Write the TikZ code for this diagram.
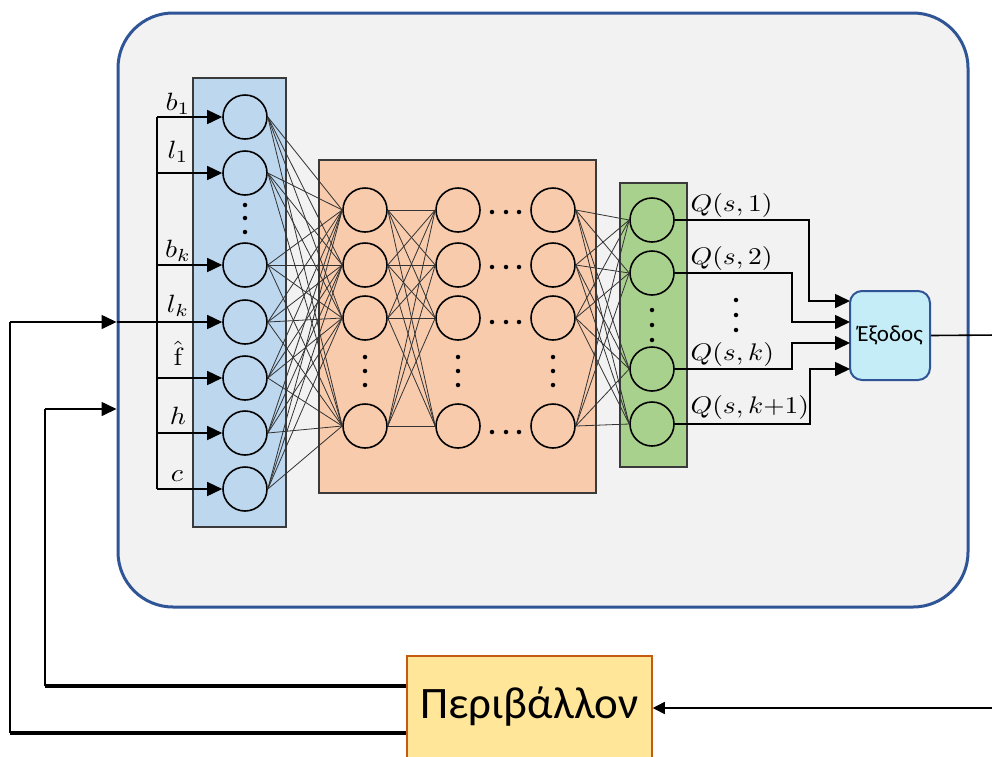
\documentclass[tikz,border=0pt]{standalone}
\usepackage{fontspec}
\newfontfamily\grfont{Carlito}
\usetikzlibrary{arrows.meta}
\definecolor{agentfill}{HTML}{F2F2F2}
\definecolor{agentline}{HTML}{2F5597}
\definecolor{infill}{HTML}{BDD7EE}
\definecolor{hidfill}{HTML}{F8CBAD}
\definecolor{outfill}{HTML}{A9D18E}
\definecolor{exfill}{HTML}{C5EDF8}
\definecolor{envfill}{HTML}{FFE699}
\definecolor{envline}{HTML}{C55A11}
\definecolor{boxline}{HTML}{3A3A3A}
\tikzset{
  neuron/.style={circle,draw=black,line width=1.6pt,minimum size=44pt,inner sep=0pt},
  layerbox/.style={draw=boxline,line width=1.2pt,inner sep=0pt},
  conn/.style={draw=black!80,line width=0.8pt},
  arr/.style={line width=1.6pt,-{Triangle[length=15pt,width=14pt]}},
  wire/.style={line width=1.6pt},
  dotmark/.style={circle,fill=black,inner sep=0pt,minimum size=4.5pt},
  inlabel/.style={font=\normalsize,inner sep=0pt,xscale=2.8,yscale=2.5},
  qlabel/.style={font=\normalsize,inner sep=0pt,anchor=west,xscale=2.75,yscale=2.4},
}
\begin{document}
\begin{tikzpicture}[x=1pt,y=-1pt]
\useasboundingbox (0,0) rectangle (992,756);
\clip (0,0) rectangle (992,756);
\fill[white] (0,0) rectangle (992,756);
% agent box
\node[draw=agentline,fill=agentfill,line width=3pt,rounded corners=55pt,
      minimum width=850pt,minimum height=594pt,inner sep=0pt] (agent) at (543,310) {};
% layer boxes
\node[layerbox,fill=infill,minimum width=93pt,minimum height=449pt] (inbox) at (239.5,302.5) {};
\node[layerbox,fill=hidfill,minimum width=277pt,minimum height=333pt] (hidbox) at (457.5,326.5) {};
\node[layerbox,fill=outfill,minimum width=67pt,minimum height=284pt] (outbox) at (653.5,325) {};
% input neurons
\foreach \n/\y in {1/117,2/173,3/265,4/322,5/378,6/433,7/489}
  \node[neuron] (in\n) at (245,\y) {};
% hidden neurons
\foreach \c/\x in {a/365,b/458,c/553}
  \foreach \n/\y in {1/210,2/265,3/318,4/426}
    \node[neuron] (h\c\n) at (\x,\y) {};
% output neurons
\foreach \n/\y in {1/220,2/273,3/369,4/424}
  \node[neuron] (o\n) at (652,\y) {};
% connections
\foreach \i in {1,...,7}
  \foreach \j in {1,...,4}
    \draw[conn] (in\i.east) -- (ha\j.west);
\foreach \i in {1,...,4}
  \foreach \j in {1,...,4}
    \draw[conn] (ha\i.east) -- (hb\j.west);
\foreach \i in {1,...,4}
  \foreach \j in {1,...,4}
    \draw[conn] (hc\i.east) -- (o\j.west);
% vertical dots
\foreach \y [count=\k] in {205,218,232} \node[dotmark] (dv1\k) at (245,\y) {};
\foreach \y [count=\k] in {357,371,385} {
  \node[dotmark] (dv2\k) at (365,\y) {};
  \node[dotmark] (dv3\k) at (458,\y) {};
  \node[dotmark] (dv4\k) at (553,\y) {};
}
\foreach \y [count=\k] in {310,325,340} \node[dotmark] (dv5\k) at (652,\y) {};
\foreach \y [count=\k] in {300,315,330} \node[dotmark] (dv6\k) at (736,\y) {};
% horizontal dots
\foreach \r/\y in {1/212,2/267,3/322,4/432}
  \foreach \x [count=\k] in {492,506,519}
    \node[dotmark] (dh\r\k) at (\x,\y) {};
% input wiring
\coordinate (vtop) at (157,117);
\coordinate (vbot) at (157,489);
\draw[wire] (vtop) -- (vbot);
\foreach \n in {1,2,3,5,6,7}
  \draw[arr] (vtop |- in\n) -- (in\n.west);
\draw[arr] (agent.west |- in4) -- (in4.west);
% input labels
\node[inlabel] (lb1) at (178,104) {$b_1$};
\node[inlabel] (ll1) at (178,152) {$l_1$};
\node[inlabel] (lbk) at (178,251) {$b_k$};
\node[inlabel] (llk) at (178,306) {$l_k$};
\node[inlabel] (lf)  at (178,353) {$\hat{\mathrm{f}}$};
\node[inlabel] (lh)  at (178,416) {$h$};
\node[inlabel] (lc)  at (177,476) {$c$};
% Exodos
\node[draw=agentline,fill=exfill,line width=2pt,rounded corners=12pt,
      minimum width=80pt,minimum height=89pt,inner sep=0pt,
      font=\grfont\fontsize{23}{26}\selectfont] (ex) at (890,335.5) {Έξοδος};
% output wiring
\coordinate (c1) at (809,220);
\coordinate (c2) at (792,273);
\coordinate (c3) at (792,369);
\coordinate (c4) at (810,424);
\coordinate (t1) at (850,301);
\coordinate (t2) at (850,322);
\coordinate (t3) at (850,343);
\coordinate (t4) at (850,369);
\draw[arr] (o1.east) -- (c1) -- (c1 |- t1) -- (t1);
\draw[arr] (o2.east) -- (c2) -- (c2 |- t2) -- (t2);
\draw[arr] (o3.east) -- (c3) -- (c3 |- t3) -- (t3);
\draw[arr] (o4.east) -- (c4) -- (c4 |- t4) -- (t4);
% output labels
\node[qlabel] (q1) at (690,205) {$Q(s,1)$};
\node[qlabel] (q2) at (690,258) {$Q(s,2)$};
\node[qlabel] (q3) at (690,354) {$Q(s,k)$};
\node[qlabel] (q4) at (690,407) {$Q(s,k{+}1)$};
% environment
\node[draw=envline,fill=envfill,line width=1.5pt,minimum width=245pt,
      minimum height=102pt,inner sep=0pt,font=\grfont\fontsize{45}{50}\selectfont] (env) at (529.5,707) {Περιβάλλον};
% feedback loops
\coordinate (r1) at (997,335);
\coordinate (r2) at (997,708);
\draw[line width=1.6pt,-{Triangle[length=12pt,width=12pt]}] (ex.east) -- (r1) -- (r2) -- (env.east |- r2);
\coordinate (la) at (10,322);
\coordinate (lb) at (10,733);
\coordinate (ma) at (45,409);
\coordinate (mb) at (45,686);
\draw[line width=3.5pt] (env.west |- lb) -- (lb);
\draw[wire] (lb) -- (la);
\draw[arr] (la) -- (agent.west |- la);
\draw[line width=3.5pt] (env.west |- mb) -- (mb);
\draw[wire] (mb) -- (ma);
\draw[arr] (ma) -- (agent.west |- ma);
\end{tikzpicture}
\end{document}
